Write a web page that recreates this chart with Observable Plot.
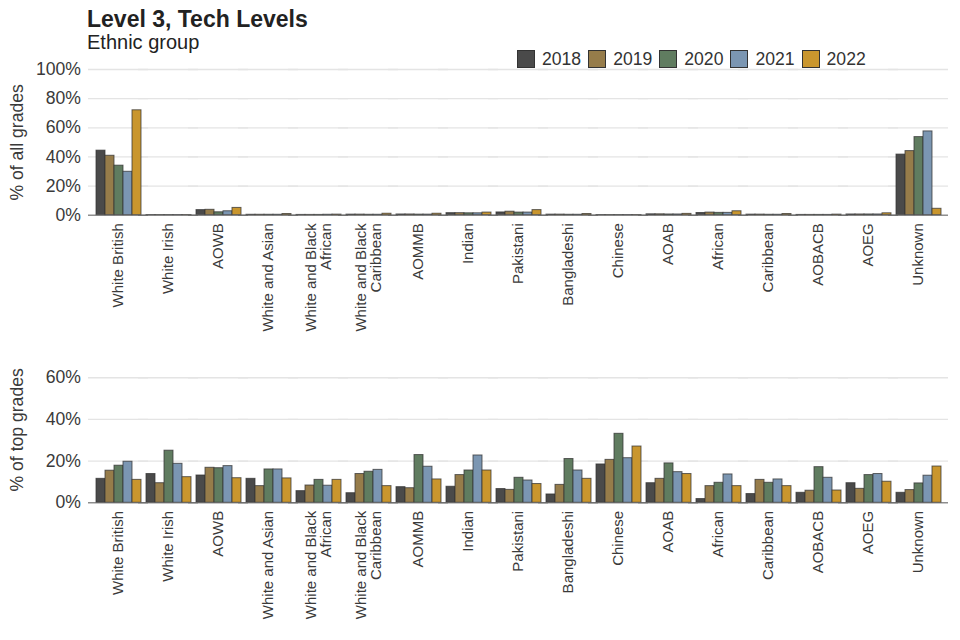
<!DOCTYPE html>
<html>
<head>
<meta charset="utf-8">
<script src="https://cdn.jsdelivr.net/npm/d3@7"></script>
<script src="https://cdn.jsdelivr.net/npm/@observablehq/plot@0.6"></script>
<style>
  body { margin: 0; width: 960px; height: 640px; position: relative; background: #fff; overflow: hidden;
         font-family: "Liberation Sans", Arial, sans-serif; color: #222; }
  #title { position: absolute; left: 87px; top: 9px; font-size: 23px; line-height: 21px; font-weight: bold; color: #222; }
  #subtitle { position: absolute; left: 87px; top: 32.5px; font-size: 20px; line-height: 18px; color: #222; }
  #legend { position: absolute; left: 517px; top: 50px; height: 18px; display: flex; align-items: center; }
  #legend .sw { width: 18px; height: 18px; box-sizing: border-box; border: 1px solid #333; margin-right: 7px; }
  #legend .lb { font-size: 17.6px; line-height: 18px; margin-right: 7px; color: #333; }
  #chart1 { position: absolute; left: 0; top: 50px; }
  #chart2 { position: absolute; left: 0; top: 340px; }
</style>
</head>
<body>
<div id="title">Level 3, Tech Levels</div>
<div id="subtitle">Ethnic group</div>
<div id="legend"></div>
<div id="chart1"></div>
<div id="chart2"></div>
<script>
const categories = ["White British", "White Irish", "AOWB", "White and Asian", "White and Black African",
  "White and Black Caribbean", "AOMMB", "Indian", "Pakistani", "Bangladeshi", "Chinese", "AOAB",
  "African", "Caribbean", "AOBACB", "AOEG", "Unknown"];
const categoryLabels = ["White British", "White Irish", "AOWB", "White and Asian", "White and Black\nAfrican",
  "White and Black\nCaribbean", "AOMMB", "Indian", "Pakistani", "Bangladeshi", "Chinese", "AOAB",
  "African", "Caribbean", "AOBACB", "AOEG", "Unknown"];
const years = ["2018", "2019", "2020", "2021", "2022"];
const colors = ["#4a4a4a", "#967c4a", "#607c60", "#7b96b2", "#c9962e"];

// % of all grades
const all2018 = [44.3, 0.1, 3.5, 0.3, 0.2, 0.4, 0.5, 1.4, 1.9, 0.4, 0.1, 0.6, 1.5, 0.4, 0.2, 0.5, 41.6];
const all2019 = [40.8, 0.1, 3.7, 0.3, 0.2, 0.4, 0.5, 1.4, 2.4, 0.4, 0.1, 0.6, 1.8, 0.4, 0.2, 0.5, 44.0];
const all2020 = [34.0, 0.1, 2.0, 0.3, 0.2, 0.3, 0.4, 1.3, 1.8, 0.3, 0.1, 0.5, 1.6, 0.3, 0.2, 0.5, 53.6];
const all2021 = [29.8, 0.1, 2.7, 0.3, 0.3, 0.3, 0.4, 1.3, 1.8, 0.3, 0.1, 0.5, 1.6, 0.3, 0.2, 0.5, 57.5];
const all2022 = [72.0, 0.1, 5.0, 0.8, 0.4, 1.0, 1.0, 1.8, 3.5, 0.8, 0.1, 0.9, 2.7, 0.8, 0.4, 1.3, 4.4];

// % of top grades
const top2018 = [11.5, 13.8, 13.1, 11.5, 5.6, 4.6, 7.5, 7.7, 6.6, 4.0, 18.4, 9.4, 1.8, 4.2, 4.8, 9.4, 4.8];
const top2019 = [15.4, 9.4, 16.8, 8.0, 8.3, 13.8, 7.0, 13.3, 6.2, 8.6, 20.6, 11.5, 8.0, 11.0, 5.8, 6.7, 6.1];
const top2020 = [17.8, 25.0, 16.6, 16.0, 11.0, 14.9, 22.9, 15.5, 12.0, 21.0, 33.1, 18.9, 9.6, 9.6, 17.1, 13.3, 9.3];
const top2021 = [19.7, 18.7, 17.6, 16.0, 8.2, 15.8, 17.3, 22.7, 10.7, 15.5, 21.4, 14.7, 13.6, 11.2, 12.0, 13.8, 13.0];
const top2022 = [11.0, 12.3, 11.8, 11.7, 11.0, 8.0, 11.2, 15.5, 9.0, 11.5, 27.0, 13.8, 8.0, 8.0, 5.9, 10.1, 17.4];

const ticksAll = [0, 0.2, 0.4, 0.6, 0.8, 1.0];
const ticksTop = [0, 0.2, 0.4, 0.6];

const labelOf = new Map(categories.map((c, i) => [c, categoryLabels[i]]));
const fontFamily = '"Liberation Sans", Arial, sans-serif';

// legend
const legend = document.getElementById("legend");
years.forEach((y, i) => {
  const sw = document.createElement("div"); sw.className = "sw"; sw.style.background = colors[i];
  const lb = document.createElement("div"); lb.className = "lb"; lb.textContent = y;
  legend.append(sw, lb);
});

function makeChart(series, yDomain, yTicks, label, height, marginTop, marginBottom) {
  const data = [];
  categories.forEach((c, i) => years.forEach((y, j) => data.push({cat: c, year: y, value: series[j][i] / 100})));
  return Plot.plot({
    width: 960, height, marginLeft: 91, marginRight: 16, marginTop, marginBottom,
    style: {fontFamily, fontSize: "15px", color: "#3a3a3a", background: "transparent", overflow: "visible"},
    fx: {domain: categories, padding: 0, label: null},
    x: {domain: years, axis: null, paddingInner: 0, paddingOuter: 0.23},
    y: {domain: yDomain, label: null},
    color: {domain: years, range: colors},
    marks: [
      Plot.ruleY(yTicks, {stroke: "#e4e4e4", strokeWidth: 1.3, insetLeft: -5, insetRight: -5}),
      Plot.barY(data, {fx: "cat", x: "year", y: "value", fill: "year", stroke: "#333", strokeOpacity: 0.75, strokeWidth: 1, inset: 0}),
      Plot.ruleY([0], {stroke: "#666", strokeWidth: 1, insetLeft: -5, insetRight: -5}),
      Plot.axisY({ticks: yTicks, tickFormat: d => Math.round(d * 100) + "%", tickSize: 0, tickPadding: 12.5,
        fontSize: 17.6, label, labelAnchor: "center", labelOffset: 83, labelArrow: "none"}),
      Plot.axisFx({anchor: "bottom", tickRotate: -90, tickSize: 0, tickPadding: 8, fontSize: 15, label: null,
        tickFormat: c => labelOf.get(c)})
    ]
  });
}

document.getElementById("chart1").append(
  makeChart([all2018, all2019, all2020, all2021, all2022], [0, 1], ticksAll, "% of all grades", 300, 19, 135.3));
document.getElementById("chart2").append(
  makeChart([top2018, top2019, top2020, top2021, top2022], [0, 0.7], ticksTop, "% of top grades", 300, 16.4, 137.7));
</script>
</body>
</html>
